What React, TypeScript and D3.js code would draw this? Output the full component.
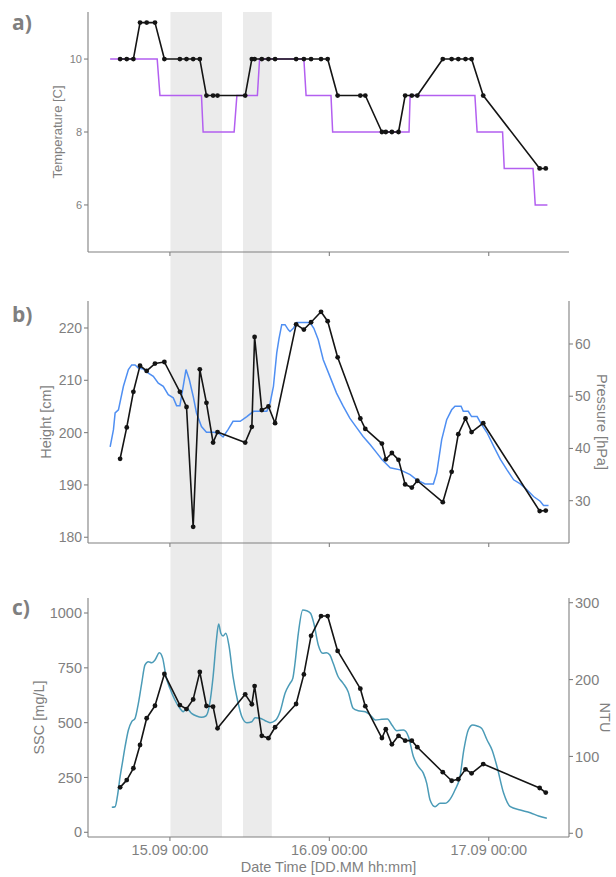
import React from "react";
import * as d3 from "d3";

// ---- sampling times (manual water samples) ----
const sampleTimes = [
  "14.09 16:30", "14.09 17:30", "14.09 18:30", "14.09 19:30", "14.09 20:30", "14.09 21:45", "14.09 23:10",
  "15.09 01:30", "15.09 02:30", "15.09 03:30", "15.09 04:30", "15.09 05:30", "15.09 06:30", "15.09 07:10",
  "15.09 11:20", "15.09 12:20", "15.09 12:45", "15.09 13:50", "15.09 14:50", "15.09 15:50", "15.09 19:00",
  "15.09 20:10", "15.09 21:15", "15.09 22:45", "15.09 23:45", "16.09 01:15", "16.09 04:40", "16.09 05:25",
  "16.09 07:55", "16.09 08:30", "16.09 09:25", "16.09 10:25", "16.09 11:25", "16.09 12:25", "16.09 13:15",
  "16.09 17:05", "16.09 18:25", "16.09 19:25", "16.09 20:30", "16.09 21:25", "16.09 23:10", "17.09 07:40",
  "17.09 08:35",
];
const sampleTemperature = [
  10, 10, 10, 11, 11, 11, 10, 10, 10, 10, 10, 9, 9, 9, 9, 10, 10, 10, 10, 10, 10, 10,
  10, 10, 10, 9, 9, 9, 8, 8, 8, 8, 9, 9, 9, 10, 10, 10, 10, 10, 9, 7, 7,
];
const sampleHeight = [
  195.0, 201.0, 207.8, 212.8, 211.8, 213.2, 213.5, 207.8, 204.9, 182.0, 212.1, 205.7, 198.1, 200.1,
  198.1, 201.1, 218.3, 204.3, 205.0, 201.8, 220.7, 219.7, 221.1, 223.1, 221.3, 214.4, 202.7, 200.7,
  197.9, 194.9, 196.1, 194.8, 190.1, 189.5, 190.8, 186.7, 192.5, 199.7, 202.7, 200.1, 201.8, 185.0, 185.1,
];
const sampleSSC = [
  205, 238, 292, 398, 520, 577, 722, 580, 562, 606, 731, 576, 573, 474, 629, 584, 667, 440, 429, 479,
  585, 720, 896, 986, 986, 827, 655, 575, 430, 470, 401, 440, 418, 418, 388, 274, 235, 242, 287, 269,
  311, 202, 181,
];

// ---- logger temperature ----
const loggerTempTimes = [
  "14.09 15:00", "14.09 22:05", "14.09 22:30", "15.09 04:45", "15.09 05:00", "15.09 09:40", "15.09 10:05",
  "15.09 13:10", "15.09 13:30", "15.09 20:10", "15.09 20:30", "16.09 00:15", "16.09 00:30", "16.09 12:00",
  "16.09 12:10", "16.09 21:55", "16.09 22:15", "17.09 02:05", "17.09 02:20", "17.09 06:40", "17.09 07:00",
  "17.09 08:50",
];
const loggerTemp = [10, 10, 9, 9, 8, 8, 9, 9, 10, 10, 9, 9, 8, 8, 9, 9, 8, 8, 7, 7, 6, 6];

// ---- logger pressure ----
const pressureTimes = [
  "14.09 15:00", "14.09 15:30", "14.09 15:45", "14.09 16:15", "14.09 17:00", "14.09 17:45", "14.09 18:15",
  "14.09 18:45", "14.09 19:15", "14.09 20:00", "14.09 20:45", "14.09 21:30", "14.09 22:15", "14.09 23:00",
  "14.09 23:45", "15.09 00:30", "15.09 01:00", "15.09 01:30", "15.09 02:00", "15.09 02:25", "15.09 02:55",
  "15.09 03:30", "15.09 04:00", "15.09 04:45", "15.09 05:30", "15.09 06:30", "15.09 07:15", "15.09 08:00",
  "15.09 08:45", "15.09 09:30", "15.09 10:35", "15.09 11:35", "15.09 12:35", "15.09 14:35", "15.09 15:05",
  "15.09 15:35", "15.09 16:05", "15.09 16:25", "15.09 16:50", "15.09 17:20", "15.09 17:50", "15.09 18:05",
  "15.09 18:35", "15.09 19:05", "15.09 21:05", "15.09 21:40", "15.09 22:20", "15.09 23:05", "16.09 00:05",
  "16.09 01:05", "16.09 02:05", "16.09 03:05", "16.09 04:10", "16.09 05:05", "16.09 06:10", "16.09 07:10",
  "16.09 07:55", "16.09 09:10", "16.09 10:40", "16.09 12:10", "16.09 13:10", "16.09 14:25", "16.09 15:40",
  "16.09 16:10", "16.09 16:55", "16.09 17:40", "16.09 18:25", "16.09 18:55", "16.09 19:50", "16.09 20:10",
  "16.09 20:55", "16.09 21:25", "16.09 22:15", "16.09 22:55", "16.09 23:45", "17.09 00:45", "17.09 01:45",
  "17.09 02:45", "17.09 03:45", "17.09 04:45", "17.09 05:45", "17.09 06:45", "17.09 07:45", "17.09 08:15",
  "17.09 09:00",
];
const pressure = [
  40.3, 43.6, 46.8, 47.4, 51.9, 55.1, 56.0, 56.0, 55.4, 55.2, 54.4, 53.8, 52.5, 51.9, 50.3, 49.7, 48.2,
  48.2, 51.9, 55.1, 53.2, 50.0, 46.8, 44.2, 43.1, 43.1, 43.0, 42.2, 43.6, 45.2, 45.2, 46.1, 47.1, 47.1,
  48.7, 51.9, 58.3, 61.0, 63.7, 63.7, 62.7, 62.4, 63.0, 64.1, 64.1, 63.0, 60.8, 57.0, 53.8, 50.6, 48.1,
  45.8, 43.9, 42.3, 40.7, 39.1, 37.9, 36.3, 35.9, 35.0, 34.0, 33.2, 33.2, 35.3, 41.7, 45.5, 47.4, 48.1,
  48.1, 47.1, 47.1, 46.1, 46.1, 44.6, 43.0, 40.4, 37.9, 35.9, 34.0, 33.2, 32.1, 30.8, 29.9, 29.1, 29.1,
];

// ---- turbidity ----
const turbidityTimes = [
  "14.09 15:15", "14.09 15:45", "14.09 16:05", "14.09 16:30", "14.09 16:50", "14.09 17:15", "14.09 17:45",
  "14.09 18:15", "14.09 18:45", "14.09 19:15", "14.09 19:45", "14.09 20:15", "14.09 20:45", "14.09 21:15",
  "14.09 21:45", "14.09 22:25", "14.09 22:55", "14.09 23:25", "15.09 00:00", "15.09 00:45", "15.09 01:30",
  "15.09 02:00", "15.09 02:30", "15.09 03:15", "15.09 04:00", "15.09 04:45", "15.09 05:25", "15.09 06:00",
  "15.09 06:30", "15.09 07:00", "15.09 07:20", "15.09 07:40", "15.09 08:00", "15.09 08:25", "15.09 08:55",
  "15.09 09:30", "15.09 10:10", "15.09 10:50", "15.09 11:35", "15.09 12:20", "15.09 12:50", "15.09 13:35",
  "15.09 14:20", "15.09 15:05", "15.09 15:50", "15.09 16:35", "15.09 17:20", "15.09 18:05", "15.09 18:30",
  "15.09 18:50", "15.09 19:20", "15.09 20:00", "15.09 20:35", "15.09 21:10", "15.09 21:40", "15.09 22:20",
  "15.09 23:00", "15.09 23:35", "16.09 00:05", "16.09 00:35", "16.09 01:20", "16.09 02:05", "16.09 02:50",
  "16.09 03:35", "16.09 04:20", "16.09 05:25", "16.09 06:10", "16.09 06:55", "16.09 07:55", "16.09 08:45",
  "16.09 09:25", "16.09 10:10", "16.09 11:10", "16.09 11:55", "16.09 12:40", "16.09 13:25", "16.09 14:10",
  "16.09 14:40", "16.09 15:10", "16.09 15:55", "16.09 16:40", "16.09 17:25", "16.09 18:10", "16.09 18:55",
  "16.09 19:40", "16.09 20:15", "16.09 20:55", "16.09 21:35", "16.09 22:15", "16.09 22:55", "16.09 23:45",
  "17.09 00:30", "17.09 01:15", "17.09 02:15", "17.09 03:15", "17.09 04:45", "17.09 06:15", "17.09 07:30",
  "17.09 08:45",
];
const turbidity = [
  33.8, 34.6, 47.6, 73.6, 91.0, 112.7, 134.4, 145.2, 149.6, 169.1, 195.1, 219.0, 223.2, 222.0, 225.4,
  235.0, 227.6, 203.7, 188.6, 173.4, 162.6, 158.2, 162.6, 156.1, 152.6, 150.9, 152.6, 169.1, 203.7, 251.5,
  272.3, 260.2, 256.7, 260.2, 242.7, 203.7, 173.4, 151.7, 143.9, 145.2, 150.4, 149.6, 146.5, 143.9, 146.5,
  158.2, 182.1, 195.1, 201.6, 221.2, 260.2, 290.5, 289.6, 286.2, 273.2, 245.0, 234.2, 235.0, 232.0, 221.2,
  203.7, 195.1, 184.2, 162.6, 159.5, 158.2, 153.9, 147.4, 148.3, 148.7, 140.9, 133.5, 134.4, 125.7, 99.6,
  86.6, 78.0, 65.0, 43.3, 34.6, 39.0, 39.0, 44.2, 56.3, 73.6, 108.4, 134.4, 140.9, 139.6, 136.6, 121.4,
  108.4, 86.6, 52.0, 34.6, 30.3, 26.8, 22.5, 19.5,
];

// ---- shaded intervals ----
const shadeStarts = ["15.09 00:05", "15.09 11:00"];
const shadeEnds = ["15.09 07:50", "15.09 15:20"];

// ---- axes ----
const xDomain = ["14.09 11:40", "17.09 12:05"];
const xTicks = ["15.09 00:00", "16.09 00:00", "17.09 00:00"];
const tempTicks = [6, 8, 10];
const heightTicks = [180, 190, 200, 210, 220];
const pressureTicks = [30, 40, 50, 60];
const sscTicks = [0, 250, 500, 750, 1000];
const ntuTicks = [0, 100, 200, 300];

const parse = d3.timeParse("%d.%m %H:%M");
const fmt = d3.timeFormat("%d.%m %H:%M");

const W = 616;
const H = 877;
const L = 88;
const R = 569;
const FONT = "'Liberation Sans', Arial, sans-serif";
const GREY = "#7f7f7f";
const AXIS = "#808080";
const BLACK = "#141414";

const x = d3.scaleTime().domain(xDomain.map((s) => parse(s)!)).range([L, R]);

const panelA = { top: 12, bottom: 252 };
const panelB = { top: 301, bottom: 543 };
const panelC = { top: 598, bottom: 837 };

const yTemp = d3.scaleLinear().domain([4.71, 11.29]).range([panelA.bottom, panelA.top]);
const yHeight = d3.scaleLinear().domain([178.9, 225.16]).range([panelB.bottom, panelB.top]);
const yPressure = d3.scaleLinear().domain([21.9, 68.23]).range([panelB.bottom, panelB.top]);
const ySSC = d3.scaleLinear().domain([-21.4, 1068.4]).range([panelC.bottom, panelC.top]);
const yNTU = d3.scaleLinear().domain([-4.8, 306.1]).range([panelC.bottom, panelC.top]);

type Pt = [Date, number];
const zip = (times: string[], vals: number[]): Pt[] => times.map((t, i) => [parse(t)!, vals[i]]);

function linePath(pts: Pt[], y: d3.ScaleLinear<number, number>, curve = d3.curveLinear) {
  return d3
    .line<Pt>()
    .x((d) => x(d[0]))
    .y((d) => y(d[1]))
    .curve(curve)(pts) as string;
}

function LeftAxis({ y, ticks, size, top, bottom, title, titleX, titleSize }: any) {
  return (
    <g>
      <line x1={L} x2={L} y1={top} y2={bottom} stroke={AXIS} strokeWidth={1.1} />
      {ticks.map((t: number) => (
        <g key={t}>
          <line x1={L - 4} x2={L} y1={y(t)} y2={y(t)} stroke={AXIS} strokeWidth={1.1} />
          <text x={L - 6} y={y(t)} dy="0.35em" textAnchor="end" fontSize={size} fill={GREY} fontFamily={FONT}>
            {t}
          </text>
        </g>
      ))}
      <text
        transform={`translate(${titleX},${(top + bottom) / 2}) rotate(-90)`}
        textAnchor="middle"
        fontSize={titleSize}
        fill={GREY}
        fontFamily={FONT}
      >
        {title}
      </text>
    </g>
  );
}

function RightAxis({ y, ticks, size, top, bottom, title, titleX, titleSize }: any) {
  return (
    <g>
      <line x1={R} x2={R} y1={top} y2={bottom} stroke={AXIS} strokeWidth={1.1} />
      {ticks.map((t: number) => (
        <g key={t}>
          <line x1={R} x2={R + 4} y1={y(t)} y2={y(t)} stroke={AXIS} strokeWidth={1.1} />
          <text x={R + 6} y={y(t)} dy="0.35em" textAnchor="start" fontSize={size} fill={GREY} fontFamily={FONT}>
            {t}
          </text>
        </g>
      ))}
      <text
        transform={`translate(${titleX},${(top + bottom) / 2}) rotate(90)`}
        textAnchor="middle"
        fontSize={titleSize}
        fill={GREY}
        fontFamily={FONT}
      >
        {title}
      </text>
    </g>
  );
}

function BottomAxis({ bottom, labels }: { bottom: number; labels: boolean }) {
  return (
    <g>
      <line x1={L} x2={R} y1={bottom} y2={bottom} stroke={AXIS} strokeWidth={1.1} />
      {xTicks.map((s) => {
        const d = parse(s)!;
        return (
          <g key={s}>
            <line x1={x(d)} x2={x(d)} y1={bottom} y2={bottom + 4} stroke={AXIS} strokeWidth={1.1} />
            {labels && (
              <text x={x(d)} y={bottom + 18} textAnchor="middle" fontSize={14.5} fill={GREY} fontFamily={FONT}>
                {fmt(d)}
              </text>
            )}
          </g>
        );
      })}
    </g>
  );
}

function Samples({ vals, y }: { vals: number[]; y: d3.ScaleLinear<number, number> }) {
  const pts = zip(sampleTimes, vals);
  return (
    <g>
      <path d={linePath(pts, y)} fill="none" stroke={BLACK} strokeWidth={1.6} strokeLinejoin="round" />
      {pts.map((p, i) => (
        <circle key={i} cx={x(p[0])} cy={y(p[1])} r={2.4} fill={BLACK} />
      ))}
    </g>
  );
}

function PanelLabel({ text, y }: { text: string; y: number }) {
  return (
    <text x={12} y={y} fontSize={21} fontWeight="bold" fill={GREY} fontFamily={"'Open Sans', sans-serif"}>
      {text}
    </text>
  );
}

export default function App() {
  const shades = shadeStarts.map((s, i) => [parse(s)!, parse(shadeEnds[i])!]);
  return (
    <svg
      width={W}
      height={H}
      style={{ position: "absolute", left: 0, top: 0, background: "#fff" }}
      xmlns="http://www.w3.org/2000/svg"
    >
      <rect width={W} height={H} fill="#fff" />
      {shades.map(([a, b], i) => (
        <rect key={i} x={x(a)} width={x(b) - x(a)} y={panelA.top} height={panelC.bottom - panelA.top} fill="#ebebeb" />
      ))}

      {/* a) temperature */}
      <path
        d={linePath(zip(loggerTempTimes, loggerTemp), yTemp)}
        fill="none"
        stroke="#b35ff0"
        strokeWidth={1.5}
      />
      <Samples vals={sampleTemperature} y={yTemp} />
      <LeftAxis
        y={yTemp}
        ticks={tempTicks}
        size={11}
        top={panelA.top}
        bottom={panelA.bottom}
        title="Temperature [C]"
        titleX={62}
        titleSize={13}
      />
      <BottomAxis bottom={panelA.bottom} labels={false} />
      <PanelLabel text="a)" y={30} />

      {/* b) water level */}
      <path
        d={linePath(zip(pressureTimes, pressure), yPressure)}
        fill="none"
        stroke="#4f8ff2"
        strokeWidth={1.5}
      />
      <Samples vals={sampleHeight} y={yHeight} />
      <LeftAxis
        y={yHeight}
        ticks={heightTicks}
        size={14}
        top={panelB.top}
        bottom={panelB.bottom}
        title="Height [cm]"
        titleX={51}
        titleSize={14.5}
      />
      <RightAxis
        y={yPressure}
        ticks={pressureTicks}
        size={14}
        top={panelB.top}
        bottom={panelB.bottom}
        title="Pressure [hPa]"
        titleX={597}
        titleSize={14.5}
      />
      <BottomAxis bottom={panelB.bottom} labels={false} />
      <PanelLabel text="b)" y={322} />

      {/* c) suspended sediment */}
      <path
        d={linePath(zip(turbidityTimes, turbidity), yNTU, d3.curveMonotoneX)}
        fill="none"
        stroke="#4b9bb7"
        strokeWidth={1.5}
      />
      <Samples vals={sampleSSC} y={ySSC} />
      <LeftAxis
        y={ySSC}
        ticks={sscTicks}
        size={14.5}
        top={panelC.top}
        bottom={panelC.bottom}
        title="SSC [mg/L]"
        titleX={44}
        titleSize={14.5}
      />
      <RightAxis
        y={yNTU}
        ticks={ntuTicks}
        size={14.5}
        top={panelC.top}
        bottom={panelC.bottom}
        title="NTU"
        titleX={600}
        titleSize={14.5}
      />
      <BottomAxis bottom={panelC.bottom} labels={true} />
      <text x={(L + R) / 2} y={872} textAnchor="middle" fontSize={14.5} fill={GREY} fontFamily={FONT}>
        Date Time [DD.MM hh:mm]
      </text>
      <PanelLabel text="c)" y={615} />
    </svg>
  );
}
